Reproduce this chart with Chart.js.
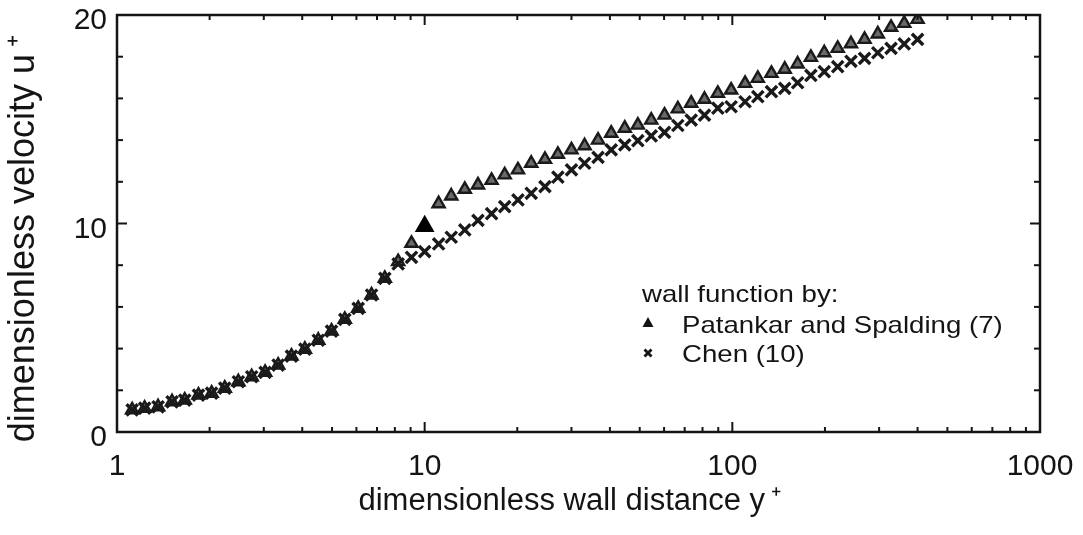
<!DOCTYPE html>
<html><head><meta charset="utf-8">
<script src="https://cdn.jsdelivr.net/npm/chart.js@4.4.1/dist/chart.umd.min.js"></script>
<style>html,body{margin:0;padding:0;background:#fff;} #wrap{width:1083px;height:535px;position:relative;}</style>
</head><body><div id="wrap"><canvas id="c" width="1083" height="535"></canvas></div>
<script>
// ---- data ----
const yPlus = [1.12,1.23,1.36,1.51,1.66,1.84,2.03,2.24,2.48,2.74,3.03,3.34,3.69,4.08,4.51,4.98,5.50,6.08,6.72,7.42,
  8.20,9.06,10.0,11.1,12.2,13.5,14.9,16.5,18.2,20.1,22.2,24.6,27.1,30.0,33.1,36.6,40.4,44.7,49.3,54.5,
  60.2,66.5,73.5,81.2,89.7,99.1,110,121,134,148,163,180,199,220,243,269,297,328,362,400];
const chenU = [1.06,1.14,1.21,1.45,1.53,1.77,1.86,2.10,2.41,2.65,2.86,3.21,3.64,3.97,4.40,4.84,5.40,5.93,6.57,7.37,
  8.06,8.38,8.65,9.02,9.34,9.69,10.15,10.47,10.81,11.13,11.45,11.77,12.22,12.57,12.89,13.17,13.53,13.77,13.97,14.20,
  14.37,14.70,14.96,15.20,15.53,15.60,15.84,16.08,16.32,16.48,16.75,17.10,17.28,17.52,17.78,17.92,18.19,18.40,18.61,18.83];
const patankarU = [1.06,1.14,1.21,1.45,1.53,1.77,1.86,2.10,2.41,2.65,2.86,3.21,3.64,3.97,4.40,4.84,5.40,5.93,6.57,7.37,
  8.17,9.05,9.87,10.95,11.32,11.64,11.85,12.07,12.33,12.57,12.89,13.08,13.32,13.53,13.73,14.00,14.33,14.57,14.72,14.96,
  15.20,15.50,15.77,15.96,16.24,16.40,16.72,16.96,17.20,17.40,17.65,17.97,18.19,18.40,18.62,18.83,19.09,19.41,19.60,19.79];
const xMajorTicks = [1, 10, 100, 1000];
const xMinorTicks = [2,3,4,5,6,7,8,9,20,30,40,50,60,70,80,90,200,300,400,500,600,700,800,900];
const yMajorTicks = [0, 10, 20];
const yMinorTicks = [2,4,6,8,12,14,16,18];
const seriesNames = ['Patankar and Spalding (7)', 'Chen (10)'];
const legendTitle = 'wall function by:';
const xTitle = 'dimensionless wall distance y\u2009\u207A  ';
const yTitle = 'dimensionless velocity u\u2009\u207A   ';
const highlightIndex = 22;

const FONT = '"Liberation Sans", Arial, Helvetica, sans-serif';
const INK = '#141414';

const framePlugin = {
  id: 'frame',
  afterDatasetsDraw(chart) {
    const {ctx, chartArea: a, scales} = chart;
    const x = scales.x, y = scales.y;
    ctx.save();
    ctx.strokeStyle = INK;
    ctx.lineWidth = 2.5;
    ctx.strokeRect(a.left, a.top, a.right - a.left, a.bottom - a.top);
    ctx.lineWidth = 2;
    const tick = (x1, y1, x2, y2) => { ctx.beginPath(); ctx.moveTo(x1, y1); ctx.lineTo(x2, y2); ctx.stroke(); };
    const xt = xMajorTicks.map(v => [v, 10]).concat(xMinorTicks.map(v => [v, 5]));
    xt.forEach(([v, len]) => {
      const px = x.getPixelForValue(v);
      tick(px, a.bottom, px, a.bottom - len);
      tick(px, a.top, px, a.top + len);
    });
    const yt = yMajorTicks.map(v => [v, 10]).concat(yMinorTicks.map(v => [v, 6]));
    yt.forEach(([v, len]) => {
      const py = y.getPixelForValue(v);
      tick(a.left, py, a.left + len, py);
      tick(a.right, py, a.right - len, py);
    });
    // legend
    ctx.fillStyle = INK;
    ctx.font = '24px ' + FONT;
    ctx.textBaseline = 'alphabetic';
    const txt = (s, tx, ty) => { ctx.save(); ctx.translate(tx, ty); ctx.scale(1.15, 1); ctx.fillText(s, 0, 0); ctx.restore(); };
    txt(legendTitle, 642, 302);
    txt(seriesNames[0], 682, 333);
    txt(seriesNames[1], 682, 362);
    // legend marks
    ctx.beginPath();
    ctx.moveTo(648, 317); ctx.lineTo(653.5, 327); ctx.lineTo(642.5, 327); ctx.closePath(); ctx.fill();
    ctx.lineWidth = 2.8;
    tick(644.5, 349.5, 651.5, 356.5);
    tick(651.5, 349.5, 644.5, 356.5);
    ctx.restore();
  }
};

new Chart(document.getElementById('c'), {
  type: 'scatter',
  data: {
    datasets: [
      {
        label: seriesNames[1],
        data: yPlus.map((v, i) => ({x: v, y: chenU[i]})),
        pointStyle: 'crossRot',
        pointRadius: 8,
        borderColor: '#1a1a1a',
        borderWidth: 3.4,
        order: 0
      },
      {
        label: seriesNames[0],
        data: yPlus.map((v, i) => ({x: v, y: patankarU[i]})),
        pointStyle: 'triangle',
        pointRadius: c => c.dataIndex === highlightIndex ? 9 : 7,
        backgroundColor: c => c.dataIndex === highlightIndex ? '#000' : '#6a6a6a',
        borderColor: c => c.dataIndex === highlightIndex ? '#000' : '#1a1a1a',
        borderWidth: 2.4,
        order: 1
      }
    ]
  },
  options: {
    responsive: false,
    animation: false,
    events: [],
    layout: {padding: {top: 15, right: 43, bottom: 0, left: 0}},
    plugins: {legend: {display: false}, tooltip: {enabled: false}},
    scales: {
      x: {
        type: 'logarithmic', min: 1, max: 1000, position: 'bottom',
        afterBuildTicks: s => { s.ticks = xMajorTicks.map(v => ({value: v})); },
        afterFit: s => { s.height = 103; s.paddingLeft = 0; s.paddingRight = 0; },
        grid: {display: false, drawTicks: false},
        border: {display: false},
        ticks: {color: INK, font: {family: FONT, size: 30}, padding: 17, maxRotation: 0, autoSkip: false,
          callback: v => String(v)},
        title: {display: true, text: xTitle, color: INK, font: {family: FONT, size: 31}, padding: {top: 0, bottom: 15}}
      },
      y: {
        type: 'linear', min: 0, max: 20, position: 'left',
        afterBuildTicks: s => { s.ticks = yMajorTicks.map(v => ({value: v})); },
        afterFit: s => { s.width = 117; s.paddingTop = 0; s.paddingBottom = 0; },
        grid: {display: false, drawTicks: false},
        border: {display: false},
        ticks: {color: INK, font: {family: FONT, size: 30}, padding: 10, labelOffset: 6,
          callback: v => String(v)},
        title: {display: true, text: yTitle, color: INK, font: {family: FONT, size: 36}, padding: {top: 2, bottom: 0}}
      }
    }
  },
  plugins: [framePlugin]
});
</script></body></html>
